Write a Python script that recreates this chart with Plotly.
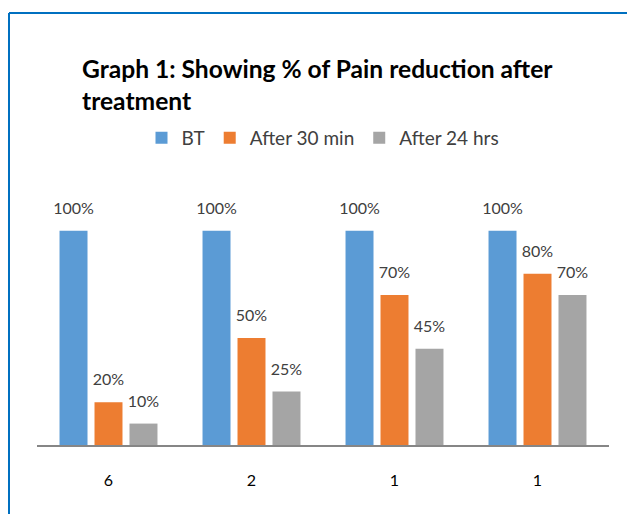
import plotly.graph_objects as go

categories = ["6", "2", "1", "1"]
series_names = ["BT", "After 30 min", "After 24 hrs"]
bt = [100, 100, 100, 100]
after_30 = [20, 50, 70, 80]
after_24 = [10, 25, 45, 70]
colors = ["#5B9BD5", "#ED7D31", "#A5A5A5"]

OFF = 8  # page body margin
W, H = 635 - OFF, 514 - OFF
L, T = 37 - OFF, 188 - OFF
pw, ph = 572, 257
R, B = W - L - pw, H - T - ph
GAP = 0.266

x = list(range(len(categories)))
fig = go.Figure()
for i, (name, vals, c) in enumerate(zip(series_names, [bt, after_30, after_24], colors)):
    fig.add_trace(go.Bar(
        x=x, y=vals, name=name, offsetgroup=str(i), alignmentgroup="g",
        marker=dict(color=c, line=dict(width=0)),
    ))
for i, vals in enumerate([bt, after_30, after_24]):
    fig.add_trace(go.Scatter(
        x=x, y=vals, mode="markers+text", offsetgroup=str(i), alignmentgroup="g",
        text=[f"{v}%" for v in vals], textposition="top center",
        marker=dict(size=19, opacity=0, color="rgba(0,0,0,0)"),
        textfont=dict(size=16, color="#404040"), cliponaxis=False,
        showlegend=False, hoverinfo="skip",
    ))

fig.update_layout(
    width=W, height=H,
    margin=dict(l=L, r=R, t=T, b=B),
    paper_bgcolor="white", plot_bgcolor="white",
    font=dict(family="Lato, 'Open Sans', sans-serif", color="#404040"),
    barmode="group", bargap=GAP, bargroupgap=0.2,
    scattermode="group", scattergap=GAP,
    title=dict(text="<b>Graph 1: Showing % of Pain reduction after<br>treatment</b>",
               x=74 / W, xanchor="left", xref="container",
               y=1 - 70 / H, yanchor="top", yref="container",
               font=dict(size=24.6, color="#000000")),
    showlegend=True,
    legend=dict(orientation="h", x=0.5, xanchor="center",
                y=(445 - 138) / ph, yanchor="middle",
                font=dict(size=19, color="#404040"),
                traceorder="normal", itemwidth=30),
    xaxis=dict(tickvals=x, ticktext=categories, range=[-0.5, 3.5],
               showline=True, linecolor="#868686", linewidth=2,
               ticks="", showgrid=False, zeroline=False,
               tickfont=dict(size=16, color="#000000"),
               ticklabelstandoff=20),
    yaxis=dict(range=[0, 120], visible=False, showgrid=False),
    shapes=[
        dict(type="line", xref="paper", yref="paper",
             x0=(1 - L) / pw, x1=(W - L) / pw,
             y0=(T + ph - 5) / ph, y1=(T + ph - 5) / ph,
             line=dict(color="#0070C0", width=2)),
        dict(type="line", xref="paper", yref="paper",
             x0=(1 - L) / pw, x1=(1 - L) / pw,
             y0=(T + ph - 5) / ph, y1=(T + ph - H) / ph,
             line=dict(color="#0070C0", width=2)),
    ],
)

fig.write_html("out.html")
